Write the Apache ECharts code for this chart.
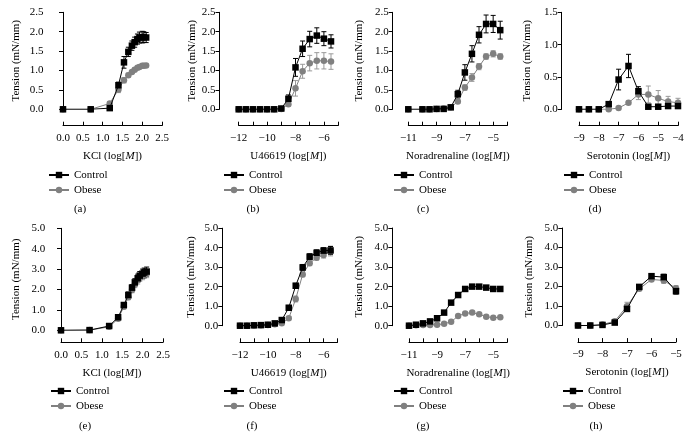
<!DOCTYPE html>
<html><head><meta charset="utf-8">
<script src="https://cdn.jsdelivr.net/npm/echarts@6/dist/echarts.min.js"></script>
<style>html,body{margin:0;padding:0;background:#fff}#c{width:690px;height:447px}</style>
</head><body><div id="c"></div>
<script>
// ---------- DATA ----------
const kclX = [0, 0.7, 1.18, 1.4, 1.54, 1.65, 1.74, 1.81, 1.88, 1.93, 2.0, 2.04, 2.1];
const u466X = [-12, -11.5, -11, -10.5, -10, -9.5, -9, -8.5, -8, -7.5, -7, -6.5, -6, -5.5];
const noraTopX = [-11, -10, -9.5, -9, -8.5, -8, -7.5, -7, -6.5, -6, -5.5, -5, -4.5];
const seroTopX = [-9, -8.5, -8, -7.5, -7, -6.5, -6, -5.5, -5, -4.5, -4];
const noraBotX = [-11, -10.5, -10, -9.5, -9, -8.5, -8, -7.5, -7, -6.5, -6, -5.5, -5, -4.5];
const seroBotX = [-9, -8.5, -8, -7.5, -7, -6.5, -6, -5.5, -5];

const aCtrl    = [0, 0, 0.03, 0.62, 1.21, 1.48, 1.64, 1.73, 1.81, 1.85, 1.86, 1.86, 1.85];
const aCtrlErr = [0, 0, 0.02, 0.08, 0.15, 0.12, 0.12, 0.13, 0.13, 0.14, 0.15, 0.14, 0.13];
const aObese   = [0, 0, 0.15, 0.51, 0.75, 0.88, 0.96, 1.02, 1.07, 1.09, 1.12, 1.12, 1.13];
const aObeseErr= [0, 0, 0.05, 0.08, 0.07, 0.05, 0.04, 0.04, 0.03, 0.03, 0.03, 0.03, 0.03];

const bCtrl    = [0, 0, 0, 0, 0, 0, 0.02, 0.27, 1.08, 1.56, 1.81, 1.9, 1.82, 1.75];
const bCtrlErr = [0, 0, 0, 0, 0, 0, 0.01, 0.1, 0.23, 0.2, 0.2, 0.2, 0.18, 0.17];
const bObese   = [0, 0, 0, 0, 0, 0, 0.01, 0.13, 0.54, 0.98, 1.19, 1.25, 1.25, 1.23];
const bObeseErr= [0, 0, 0, 0, 0, 0, 0, 0.05, 0.2, 0.18, 0.2, 0.21, 0.21, 0.2];

const cCtrl    = [0, 0, 0, 0.01, 0.01, 0.05, 0.39, 0.95, 1.43, 1.92, 2.2, 2.2, 2.04];
const cCtrlErr = [0, 0, 0, 0, 0, 0.01, 0.1, 0.2, 0.21, 0.21, 0.23, 0.22, 0.23];
const cObese   = [0, 0, 0, 0.01, 0.02, 0.05, 0.2, 0.56, 0.82, 1.1, 1.36, 1.43, 1.36];
const cObeseErr= [0, 0, 0, 0, 0, 0.01, 0.04, 0.07, 0.1, 0.08, 0.07, 0.08, 0.07];

const dCtrl    = [0, 0, 0, 0.08, 0.46, 0.67, 0.28, 0.04, 0.04, 0.05, 0.05];
const dCtrlErr = [0, 0, 0, 0.03, 0.16, 0.18, 0.07, 0.01, 0.01, 0.01, 0.01];
const dObese   = [0, 0, 0, 0, 0.02, 0.1, 0.23, 0.23, 0.17, 0.12, 0.1];
const dObeseErr= [0, 0, 0, 0, 0, 0.01, 0.08, 0.13, 0.12, 0.08, 0.07];

const eCtrl    = [0, 0.01, 0.21, 0.64, 1.24, 1.73, 2.09, 2.35, 2.55, 2.68, 2.78, 2.83, 2.88];
const eCtrlErr = [0, 0, 0.03, 0.08, 0.12, 0.15, 0.15, 0.18, 0.2, 0.2, 0.22, 0.22, 0.22];
const eObese   = [0, 0.01, 0.17, 0.57, 1.15, 1.62, 1.98, 2.25, 2.45, 2.58, 2.68, 2.74, 2.78];
const eObeseErr= [0, 0, 0.03, 0.07, 0.1, 0.12, 0.14, 0.16, 0.18, 0.18, 0.2, 0.2, 0.2];

const fCtrl    = [0, 0, 0.02, 0.03, 0.05, 0.12, 0.29, 0.92, 2.05, 2.99, 3.54, 3.74, 3.85, 3.86];
const fCtrlErr = [0, 0, 0, 0, 0.01, 0.02, 0.05, 0.12, 0.12, 0.15, 0.15, 0.15, 0.15, 0.2];
const fObese   = [0, 0, 0.01, 0.02, 0.03, 0.07, 0.12, 0.38, 1.37, 2.63, 3.2, 3.49, 3.62, 3.83];
const fObeseErr= [0, 0, 0, 0, 0.01, 0.02, 0.03, 0.08, 0.15, 0.12, 0.12, 0.12, 0.15, 0.25];

const gCtrl    = [0, 0.05, 0.12, 0.22, 0.38, 0.67, 1.18, 1.57, 1.88, 2.0, 2.0, 1.95, 1.88, 1.88];
const gCtrlErr = [0.01, 0.02, 0.03, 0.05, 0.08, 0.1, 0.08, 0.06, 0.06, 0.08, 0.08, 0.08, 0.1, 0.08];
const gObese   = [0, 0.02, 0.03, 0.03, 0.05, 0.1, 0.2, 0.5, 0.63, 0.67, 0.58, 0.46, 0.41, 0.43];
const gObeseErr= [0.01, 0.01, 0.02, 0.02, 0.02, 0.02, 0.03, 0.03, 0.04, 0.04, 0.03, 0.03, 0.03, 0.03];

const hCtrl    = [0, 0, 0.03, 0.15, 0.85, 1.98, 2.53, 2.48, 1.76];
const hCtrlErr = [0, 0, 0.02, 0.05, 0.1, 0.1, 0.1, 0.15, 0.15];
const hObese   = [0, 0, 0.05, 0.22, 0.99, 1.88, 2.36, 2.31, 1.9];
const hObeseErr= [0, 0, 0.02, 0.05, 0.2, 0.1, 0.1, 0.15, 0.15];

const xNames = ['KCl', 'U46619', 'Noradrenaline', 'Serotonin'];
const tags = ['(a)', '(b)', '(c)', '(d)', '(e)', '(f)', '(g)', '(h)'];
const seriesNames = ['Control', 'Obese'];
const yName = 'Tension (mN/mm)';

// ---------- LAYOUT ----------
const panels = [
  {x: kclX, c: aCtrl, ce: aCtrlErr, o: aObese, oe: aObeseErr, nm: 0, xMin: 0, xMax: 2.5, xInt: 0.5, step: 1, dec: 1, yMax: 2.5, yInt: 0.5,
   L: 63, T: 12.3, W: 99, H: 97, yOff: 15.5, xOff: 16.4, yGap: 26, tx: 80, ty: 209, lgL: 48, lgT: 169},
  {x: u466X, c: bCtrl, ce: bCtrlErr, o: bObese, oe: bObeseErr, nm: 1, xMin: -12, xMax: -5, xInt: 1, step: 2, dec: 0, yMax: 2.5, yInt: 0.5,
   L: 238.7, T: 12.3, W: 99.4, H: 97, yOff: 19.2, xOff: 16.4, yGap: 22, tx: 253, ty: 209, lgL: 223, lgT: 169},
  {x: noraTopX, c: cCtrl, ce: cCtrlErr, o: cObese, oe: cObeseErr, nm: 2, xMin: -11, xMax: -4, xInt: 1, step: 2, dec: 0, yMax: 2.5, yInt: 0.5,
   L: 408.3, T: 12.3, W: 99, H: 97, yOff: 15.6, xOff: 16.4, yGap: 28.5, tx: 423, ty: 209, lgL: 393, lgT: 169},
  {x: seroTopX, c: dCtrl, ce: dCtrlErr, o: dObese, oe: dObeseErr, nm: 3, xMin: -9, xMax: -4, xInt: 1, step: 1, dec: 0, yMax: 1.5, yInt: 0.5,
   L: 579, T: 12.3, W: 99, H: 97, yOff: 17.3, xOff: 16.4, yGap: 29.5, tx: 595, ty: 209, lgL: 563, lgT: 169},
  {x: kclX, c: eCtrl, ce: eCtrlErr, o: eObese, oe: eObeseErr, nm: 0, xMin: 0, xMax: 2.5, xInt: 0.5, step: 1, dec: 1, yMax: 5, yInt: 1,
   L: 61, T: 228.3, W: 102, H: 102, yOff: 11.7, xOff: 12, yGap: 27.5, tx: 85, ty: 426, lgL: 50, lgT: 385},
  {x: u466X, c: fCtrl, ce: fCtrlErr, o: fObese, oe: fObeseErr, nm: 1, xMin: -12, xMax: -5, xInt: 1, step: 2, dec: 0, yMax: 5, yInt: 1,
   L: 240, T: 228.2, W: 97.5, H: 97.5, yOff: 17.7, xOff: 16.6, yGap: 25.5, tx: 252, ty: 426, lgL: 223, lgT: 385},
  {x: noraBotX, c: gCtrl, ce: gCtrlErr, o: gObese, oe: gObeseErr, nm: 2, xMin: -11, xMax: -4, xInt: 1, step: 2, dec: 0, yMax: 5, yInt: 1,
   L: 409, T: 228, W: 98.3, H: 97.7, yOff: 16.7, xOff: 16.6, yGap: 27.5, tx: 423, ty: 426, lgL: 393, lgT: 385},
  {x: seroBotX, c: hCtrl, ce: hCtrlErr, o: hObese, oe: hObeseErr, nm: 3, xMin: -9, xMax: -5, xInt: 1, step: 1, dec: 0, yMax: 5, yInt: 1,
   L: 578, T: 228, W: 98, H: 97.5, yOff: 15.7, xOff: 16.6, yGap: 27.5, tx: 596, ty: 426, lgL: 562, lgT: 385}
];

const FONT = '"Liberation Serif", "DejaVu Serif", serif';
const FS = 11;
const CTRL = '#000000', OB = '#808080', OB_ERR = '#9a9a9a';
const fmtNum = (v, dec) => (dec ? v.toFixed(dec) : String(Math.round(v))).replace('-', '\u2212');

function errSeries(xs, ys, es, idx, color, name) {
  return {
    type: 'custom', name: name, xAxisIndex: idx, yAxisIndex: idx, z: 1, silent: true,
    data: xs.map((x, i) => [x, ys[i], es[i]]),
    encode: {x: 0, y: 1},
    renderItem: function (params, api) {
      const x = api.value(0), y = api.value(1), e = api.value(2);
      if (!e) return null;
      const top = api.coord([x, y + e]);
      const bot = api.coord([x, y - e]);
      const cw = 2.5;
      const st = {stroke: color, lineWidth: 1};
      return {type: 'group', children: [
        {type: 'line', shape: {x1: top[0], y1: top[1], x2: bot[0], y2: bot[1]}, style: st},
        {type: 'line', shape: {x1: top[0] - cw, y1: top[1], x2: top[0] + cw, y2: top[1]}, style: st},
        {type: 'line', shape: {x1: bot[0] - cw, y1: bot[1], x2: bot[0] + cw, y2: bot[1]}, style: st}
      ]};
    }
  };
}

const grid = [], xAxis = [], yAxis = [], series = [], legend = [], graphic = [];
panels.forEach((p, i) => {
  grid.push({left: p.L, top: p.T, width: p.W, height: p.H, containLabel: false});
  xAxis.push({
    type: 'value', gridIndex: i, min: p.xMin, max: p.xMax, interval: p.xInt, offset: p.xOff,
    name: xNames[p.nm] + ' (log[{i|M}])', nameLocation: 'middle', nameGap: 25,
    nameTextStyle: {fontFamily: FONT, fontSize: FS, color: '#000', rich: {i: {fontFamily: FONT, fontSize: FS, fontStyle: 'italic', color: '#000'}}},
    axisLine: {show: true, onZero: false, lineStyle: {color: '#000', width: 1}},
    axisTick: {show: true, inside: true, length: 4, lineStyle: {color: '#000'}},
    splitLine: {show: false},
    axisLabel: {margin: 7, fontFamily: FONT, fontSize: FS, color: '#000', showMinLabel: true, showMaxLabel: true,
      formatter: v => (Math.round((v - p.xMin) / p.xInt) % p.step === 0 ? fmtNum(v, p.dec) : '')}
  });
  yAxis.push({
    type: 'value', gridIndex: i, min: 0, max: p.yMax, interval: p.yInt, offset: p.yOff,
    name: yName, nameLocation: 'middle', nameGap: p.yGap, nameRotate: 90,
    nameTextStyle: {fontFamily: FONT, fontSize: FS, color: '#000'},
    axisLine: {show: true, lineStyle: {color: '#000', width: 1}},
    axisTick: {show: true, inside: false, length: 4, lineStyle: {color: '#000'}},
    splitLine: {show: false},
    axisLabel: {margin: 4, fontFamily: FONT, fontSize: FS, color: '#000', formatter: v => v.toFixed(1)}
  });
  series.push(errSeries(p.x, p.o, p.oe, i, OB_ERR, 'obErr' + i));
  series.push(errSeries(p.x, p.c, p.ce, i, CTRL, 'ctErr' + i));
  series.push({
    type: 'line', name: seriesNames[1], xAxisIndex: i, yAxisIndex: i, z: 2,
    data: p.x.map((x, k) => [x, p.o[k]]),
    symbol: 'circle', symbolSize: 6.5, showAllSymbol: true,
    lineStyle: {color: OB, width: 1}, itemStyle: {color: OB}
  });
  series.push({
    type: 'line', name: seriesNames[0], xAxisIndex: i, yAxisIndex: i, z: 3,
    data: p.x.map((x, k) => [x, p.c[k]]),
    symbol: 'rect', symbolSize: 6.5, showAllSymbol: true,
    lineStyle: {color: CTRL, width: 1}, itemStyle: {color: CTRL}
  });
  legend.push({
    orient: 'vertical', left: p.lgL, top: p.lgT, padding: 0, itemWidth: 20, itemHeight: 8, itemGap: 3,
    selectedMode: false, data: seriesNames.slice(),
    textStyle: {fontFamily: FONT, fontSize: FS, color: '#000', lineHeight: 12}
  });
  graphic.push({
    type: 'text', x: p.tx, y: p.ty,
    style: {text: tags[i], font: FS + 'px ' + FONT, fill: '#000', textAlign: 'center', textVerticalAlign: 'middle', align: 'center', verticalAlign: 'middle'}
  });
});

const chart = echarts.init(document.getElementById('c'), null, {renderer: 'canvas'});
chart.setOption({animation: false, backgroundColor: '#fff', grid, xAxis, yAxis, series, legend, graphic});
</script>
</body></html>
